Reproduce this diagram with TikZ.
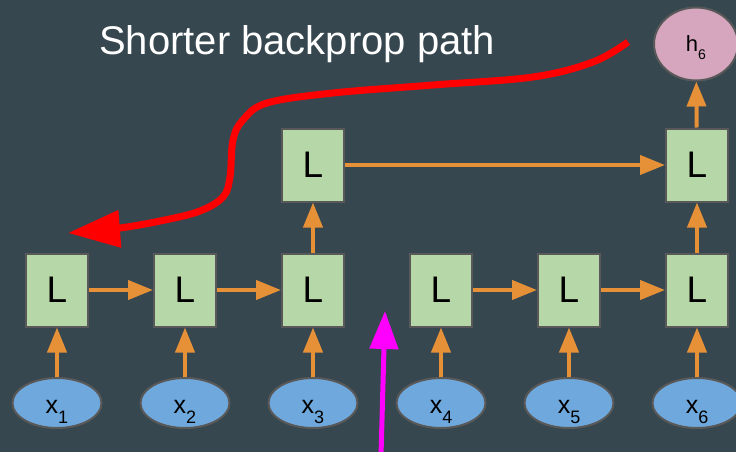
\documentclass[tikz,border=0pt]{standalone}
\usepackage{fontspec}
\setmainfont{Liberation Sans}
\usetikzlibrary{arrows.meta,shapes.geometric}

\definecolor{slate}{HTML}{37474F}
\definecolor{lstmfill}{HTML}{B6D7A8}
\definecolor{edgegrey}{HTML}{595959}
\definecolor{inputblue}{HTML}{6FA8DC}
\definecolor{outpink}{HTML}{D5A6BD}
\definecolor{flow}{HTML}{E69138}
\definecolor{hotpink}{HTML}{FF00FF}

\newcommand\lowsub[2]{\smash{\raisebox{-#1}{#2}}}

\begin{document}
\begin{tikzpicture}[x=1pt,y=-1pt,
  cell/.style={draw=edgegrey,line width=2pt,fill=lstmfill,minimum width=62pt,
    minimum height=73pt,inner sep=0pt,font=\fontsize{37}{37}\selectfont},
  inp/.style={ellipse,draw=edgegrey,line width=2pt,fill=inputblue,minimum width=89pt,
    minimum height=50pt,inner sep=0pt,text height=23pt,text depth=3pt,
    font=\fontsize{25}{25}\selectfont},
  outp/.style={ellipse,draw=edgegrey,line width=2pt,fill=outpink,minimum width=84pt,
    minimum height=73pt,inner sep=0pt,text height=16pt,text depth=0pt,
    font=\fontsize{22}{22}\selectfont},
  flowarrow/.style={draw=flow,line width=4pt,-{Triangle[length=25pt,width=19pt]}},
  redpath/.style={draw=red,line width=7pt,-{Triangle[length=52pt,width=36pt]}},
  pinkarrow/.style={draw=hotpink,line width=5pt,-{Triangle[length=38pt,width=28pt]}}
]
\fill[slate] (0,0) rectangle (736,452);
\useasboundingbox (0,0) rectangle (736,452);

% lower chain of cells
\foreach \i/\xx in {1/57,2/185,3/313,4/441,5/569,6/697}{
  \node[cell] (L\i) at (\xx,290) {L};
  \node[inp] (x\i) at (\xx,403) {x\lowsub{10pt}{\fontsize{18}{18}\selectfont \i}};
}
% upper cells and output
\node[cell] (U3) at (313,165) {L};
\node[cell] (U6) at (697,165) {L};
\node[outp] (h6) at (696,44) {h\lowsub{8pt}{\fontsize{14}{14}\selectfont 6}};

% input arrows
\foreach \i in {1,...,6}{ \draw[flowarrow] (x\i) -- (L\i); }
% recurrent arrows
\draw[flowarrow] (L1) -- (L2);
\draw[flowarrow] (L2) -- (L3);
\draw[flowarrow] (L4) -- (L5);
\draw[flowarrow] (L5) -- (L6);
% upward arrows and skip connection
\draw[flowarrow] (L3) -- (U3);
\draw[flowarrow] (L6) -- (U6);
\draw[flowarrow] (U3) -- (U6);
\draw[flowarrow] (U6) -- (h6);

% caption
\node[anchor=base west,inner sep=0pt,text=white,font=\fontsize{40}{40}\selectfont]
  (cap) at (99,55) {Shorter backprop path};

% gradient path drawn in red
\coordinate (rstart) at (628,42);
\coordinate (rend) at (68,233);
\draw[redpath] plot[smooth,tension=0.6] coordinates
  {(rstart) (593,62) (533,77) (433,85) (333,93) (267,103) (243,120) (233,140)
   (230,177) (223,197) (200,211) (165,220) (120,228) (rend)};

% split marker
\coordinate (pbot) at (381,456);
\coordinate (ptop) at (385,311);
\draw[pinkarrow] (pbot) -- (ptop);
\end{tikzpicture}
\end{document}
